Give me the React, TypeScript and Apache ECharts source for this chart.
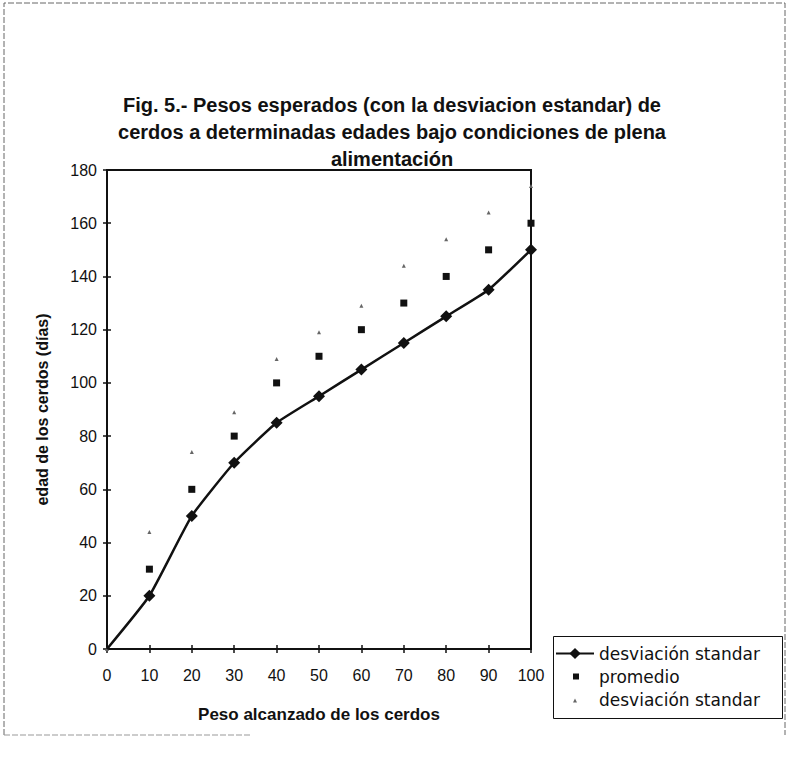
import React, { useEffect, useRef } from "react";
import * as echarts from "echarts";

const titleLines = [
  "Fig. 5.- Pesos esperados (con la desviacion estandar) de",
  "cerdos a determinadas edades bajo condiciones de plena",
  "alimentación",
];
const xName = "Peso alcanzado de los cerdos";
const yName = "edad de los cerdos (días)";
const pesos = [0, 10, 20, 30, 40, 50, 60, 70, 80, 90, 100];
const desvInferior = [0, 20, 50, 70, 85, 95, 105, 115, 125, 135, 150];
const promedio = [null, 30, 60, 80, 100, 110, 120, 130, 140, 150, 160];
const desvSuperior = [0, 44, 74, 89, 109, 119, 129, 144, 154, 164, 174];
const seriesNames = ["desviación standar", "promedio", "desviación standar "];

const FONT = "Liberation Sans, Arial, sans-serif";
const LEGEND_FONT = "DejaVu Sans, Liberation Sans, sans-serif";

export default function App() {
  const ref = useRef<HTMLDivElement>(null);
  useEffect(() => {
    const chart = echarts.init(ref.current!, null, { renderer: "svg" });
    const lowData = pesos.map((x, i) =>
      i === 0 ? { value: [x, desvInferior[i]], symbolSize: 0 } : { value: [x, desvInferior[i]] }
    );
    const meanData = pesos
      .map((x, i) => [x, promedio[i]])
      .filter((d) => d[1] !== null);
    const upData = pesos.map((x, i) => [x, desvSuperior[i]]);
    const axisBase = {
      type: "value",
      splitLine: { show: false },
    };
    chart.setOption({
      animation: false,
      backgroundColor: "#fff",
      title: {
        text: titleLines.join("\n"),
        left: 387,
        top: 86,
        textAlign: "center",
        textStyle: {
          fontFamily: FONT,
          fontSize: 20,
          fontWeight: "bold",
          lineHeight: 27,
          color: "#111",
        },
      },
      grid: {
        left: 107,
        top: 170,
        right: 256,
        bottom: 108,
        show: true,
        borderColor: "#111",
        borderWidth: 2,
      },
      xAxis: [
        {
          ...axisBase,
          min: 0,
          max: 100,
          interval: 10,
          name: xName,
          nameLocation: "middle",
          nameGap: 57,
          nameTextStyle: { fontFamily: FONT, fontSize: 17, fontWeight: "bold", color: "#111" },
          axisLine: { show: true, lineStyle: { color: "#111", width: 2 } },
          axisTick: { show: true, inside: false, length: 4, lineStyle: { color: "#111", width: 1.5 } },
          axisLabel: { fontFamily: FONT, fontSize: 16, color: "#111", margin: 18 },
        },
        {
          ...axisBase,
          min: 0,
          max: 100,
          interval: 10,
          position: "bottom",
          axisLine: { show: false },
          axisTick: { show: true, inside: true, length: 4, lineStyle: { color: "#111", width: 1.5 } },
          axisLabel: { show: false },
        },
      ],
      yAxis: [
        {
          ...axisBase,
          min: 0,
          max: 180,
          interval: 20,
          name: yName,
          nameLocation: "middle",
          nameGap: 57,
          nameTextStyle: { fontFamily: FONT, fontSize: 16, fontWeight: "bold", color: "#111" },
          axisLine: { show: true, lineStyle: { color: "#111", width: 2 } },
          axisTick: { show: true, inside: false, length: 4, lineStyle: { color: "#111", width: 1.5 } },
          axisLabel: { fontFamily: FONT, fontSize: 16, color: "#111", margin: 10 },
        },
        {
          ...axisBase,
          min: 0,
          max: 180,
          interval: 20,
          position: "left",
          axisLine: { show: false },
          axisTick: { show: true, inside: true, length: 4, lineStyle: { color: "#111", width: 1.5 } },
          axisLabel: { show: false },
        },
      ],
      legend: {
        orient: "vertical",
        left: 553,
        top: 636,
        padding: [9, 4, 9, 2],
        itemGap: 6,
        itemWidth: 38,
        itemHeight: 14,
        textStyle: { fontFamily: LEGEND_FONT, fontSize: 17, lineHeight: 17, color: "#111" },
        data: [
          { name: seriesNames[0] },
          { name: seriesNames[1], icon: "path://M0,0M38,14M17,4h6v6h-6z" },
          { name: seriesNames[2], icon: "path://M0,0M38,14M17,10l2,-4l2,4z" },
        ],
      },
      graphic: [
        {
          type: "polyline",
          shape: { points: [[4, 735], [4, 3], [785, 3], [785, 735]] },
          style: { stroke: "#666", lineWidth: 1, fill: null, lineDash: [6, 2] },
          silent: true,
        },
        {
          type: "line",
          shape: { x1: 4, y1: 735, x2: 250, y2: 735 },
          style: { stroke: "#999", lineWidth: 1, lineDash: [6, 2] },
          silent: true,
        },
        {
          type: "rect",
          shape: { x: 553.5, y: 636.5, width: 229, height: 82 },
          style: { stroke: "#111", lineWidth: 1, fill: null },
          silent: true,
        },
      ],
      series: [
        {
          name: seriesNames[0],
          type: "line",
          data: lowData,
          smooth: 0.15,
          symbol: "diamond",
          symbolSize: 12,
          showSymbol: true,
          lineStyle: { color: "#111", width: 2.5 },
          itemStyle: { color: "#111" },
          z: 3,
        },
        {
          name: seriesNames[1],
          type: "scatter",
          data: meanData,
          symbol: "rect",
          symbolSize: 7,
          itemStyle: { color: "#111", opacity: 1 },
        },
        {
          name: seriesNames[2],
          type: "scatter",
          data: upData,
          symbol: "triangle",
          symbolSize: 4,
          itemStyle: { color: "#666", opacity: 1 },
        },
      ],
    });
    return () => chart.dispose();
  }, []);
  return (
    <div
      ref={ref}
      style={{ position: "fixed", left: 0, top: 0, width: 787, height: 757, background: "#fff" }}
    />
  );
}
